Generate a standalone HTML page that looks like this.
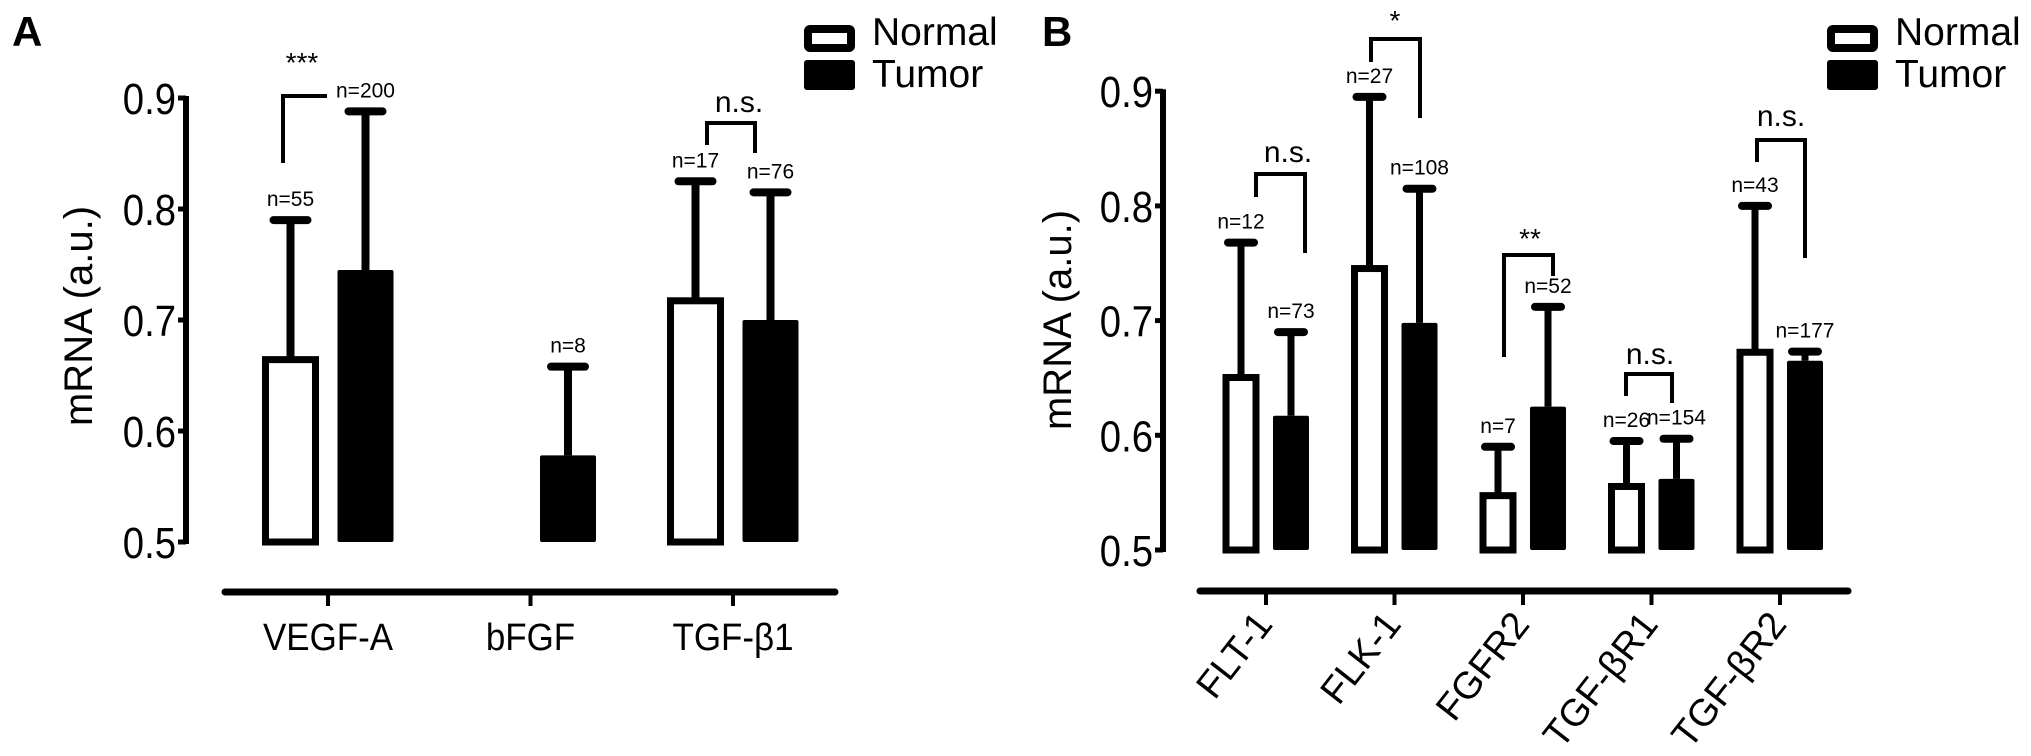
<!DOCTYPE html>
<html><head><meta charset="utf-8"><style>
html,body{margin:0;padding:0;background:#fff;}
svg{display:block;font-family:"Liberation Sans",sans-serif;}
</style></head><body>
<svg id="fig" width="2031" height="756" viewBox="0 0 2031 756"></svg>
<script>
// Panel A data
const catsA = ["VEGF-A","bFGF","TGF-β1"];
const normalA = [0.667, null, 0.72];
const normalErrA = [0.79, null, 0.825];
const tumorA = [0.745, 0.578, 0.70];
const tumorErrA = [0.888, 0.658, 0.815];
const nNormalA = ["n=55", null, "n=17"];
const nTumorA = ["n=200", "n=8", "n=76"];
// Panel B data
const catsB = ["FLT-1","FLK-1","FGFR2","TGF-βR1","TGF-βR2"];
const normalB = [0.653, 0.748, 0.55, 0.558, 0.675];
const normalErrB = [0.768, 0.895, 0.59, 0.595, 0.80];
const tumorB = [0.617, 0.698, 0.625, 0.562, 0.665];
const tumorErrB = [0.69, 0.815, 0.712, 0.597, 0.673];
const nNormalB = ["n=12","n=27","n=7","n=26","n=43"];
const nTumorB = ["n=73","n=108","n=52","n=154","n=177"];
const yTicks = [0.5,0.6,0.7,0.8,0.9];
const tickLabels = ["0.5","0.6","0.7","0.8","0.9"];

const NS="http://www.w3.org/2000/svg";
const svg=document.getElementById('fig');
function el(tag,attrs,parent,text){const e=document.createElementNS(NS,tag);for(const k in attrs)e.setAttribute(k,attrs[k]);if(text!==undefined)e.textContent=text;(parent||svg).appendChild(e);return e;}

function panel(cfg){
  const g=el('g',{});
  
  
  const y=v=>cfg.y0-(v-0.5)*cfg.unit*10;
  const ya=el('line',{x1:cfg.ax,y1:y(0.9)-2,x2:cfg.ax,y2:y(0.5)+2,stroke:'#000','stroke-width':6},g);
  
  
  yTicks.forEach((t,i)=>{
    el('line',{x1:cfg.ax-8,y1:y(t),x2:cfg.ax,y2:y(t),stroke:'#000','stroke-width':5},g);
    const tl=el('text',{x:0,y:0,'font-size':44,'text-anchor':'end',transform:`translate(${cfg.ax-10},${y(t)+16}) scale(0.87,1)`},g,tickLabels[i]);
    
    
  });
  const yt=el('text',{x:0,y:0,'font-size':40,'text-anchor':'middle',transform:`translate(${cfg.titleX},${cfg.titleY}) rotate(-90)`},g,'mRNA (a.u.)');
  
  
  const xa=el('line',{x1:cfg.xa0,y1:cfg.xaY,x2:cfg.xa1,y2:cfg.xaY,stroke:'#000','stroke-width':7,'stroke-linecap':'round'},g);
  
  
  cfg.cats.forEach((c,i)=>{
    const cx=cfg.x0+i*cfg.step;
    el('line',{x1:cx,y1:cfg.xaY,x2:cx,y2:cfg.xaY+14,stroke:'#000','stroke-width':4},g);
    let lab;
    if(cfg.rot){
      lab=el('text',{x:0,y:0,'font-size':38,'text-anchor':'end',transform:`translate(${cx+8},${cfg.xaY+34}) rotate(-52)`},g,c);
    }else{
      lab=el('text',{x:0,y:0,'font-size':38,'text-anchor':'middle',transform:`translate(${cx},${cfg.xaY+58}) scale(0.92,1)`},g,c);
    }
    
    
    const series=[[cfg.normal,cfg.normalErr,cfg.nN,-1,'normal'],[cfg.tumor,cfg.tumorErr,cfg.nT,1,'tumor']];
    series.forEach(([vals,errs,ns,side,kind])=>{
      const v=vals[i]; if(v===null) return;
      const bx = side<0 ? cx-cfg.gap/2-cfg.bw : cx+cfg.gap/2;
      const mid=bx+cfg.bw/2;
      const ey=y(errs[i]);
      el('line',{x1:mid,y1:ey,x2:mid,y2:y(v),stroke:'#000','stroke-width':cfg.ew},g);
      el('line',{x1:mid-cfg.capw/2,y1:ey,x2:mid+cfg.capw/2,y2:ey,stroke:'#000','stroke-width':8,'stroke-linecap':'round'},g);
      let r;
      if(kind==='normal'){
        r=el('rect',{x:bx+3,y:y(v)+3,width:cfg.bw-6,height:y(0.5)-y(v)-3,fill:'#fff',stroke:'#000','stroke-width':7},g);
      } else {
        r=el('rect',{x:bx,y:y(v),width:cfg.bw,height:y(0.5)-y(v),fill:'#000',rx:2},g);
      }
      
      
      const nt=el('text',{x:mid,y:ey-14,'font-size':21,'text-anchor':'middle'},g,ns[i]);
      
      
    });
  });
  const lg=el('g',{},g);
  
  
  el('rect',{x:cfg.lx+4,y:29,width:43,height:19,fill:'#fff',stroke:'#000','stroke-width':8,rx:2},lg);
  el('rect',{x:cfg.lx,y:60,width:51,height:30,fill:'#000',rx:3},lg);
  const l1=el('text',{x:cfg.lx+68,y:45,'font-size':39},lg,'Normal');
  
  
  const l2=el('text',{x:cfg.lx+68,y:87,'font-size':39},lg,'Tumor');
  
  
  const pl=el('text',{x:cfg.px,y:46,'font-size':42,'font-weight':'bold'},g,cfg.letter);
  
  
  return g;
}
function bracket(x1,x2,yt,yl,yr,label,lx,ly,size){
  const p=el('path',{d:`M${x1},${yl} V${yt} H${x2} V${yr}`,fill:'none',stroke:'#000','stroke-width':4});
  
  
  const t=el('text',{x:lx,y:ly,'font-size':size,'text-anchor':'middle'},svg,label);
  
  
}
panel({name:'panel-a',letter:'A',px:12,ax:186,y0:542,unit:111,titleX:92,titleY:316,xa0:225,xa1:835,xaY:592,
  cats:catsA,x0:328,step:202.5,gap:19,bw:56,ew:8,capw:34,normal:normalA,normalErr:normalErrA,tumor:tumorA,tumorErr:tumorErrA,nN:nNormalA,nT:nTumorA,lx:804,rot:false});
panel({name:'panel-b',letter:'B',px:1042,ax:1163,y0:550,unit:114.7,titleX:1071,titleY:320,xa0:1200,xa1:1848,xaY:591,
  cats:catsB,x0:1266,step:128.5,gap:14,bw:36,ew:7,capw:26,normal:normalB,normalErr:normalErrB,tumor:tumorB,tumorErr:tumorErrB,nN:nNormalB,nT:nTumorB,lx:1827,rot:true});
bracket(283,327,96,163,96,'***',302,72,28);
bracket(707,755,123,145,153,'n.s.',739,112,30);
bracket(1256,1305,174,197,253,'n.s.',1288,162,30);
bracket(1371,1420,39,62,118,'*',1395,30,28);
bracket(1504,1553,255,357,276,'**',1530,248,28);
bracket(1626,1672,374,396,403,'n.s.',1650,364,30);
bracket(1757,1805,140,162,258,'n.s.',1781,126,30);
</script>
</body></html>
